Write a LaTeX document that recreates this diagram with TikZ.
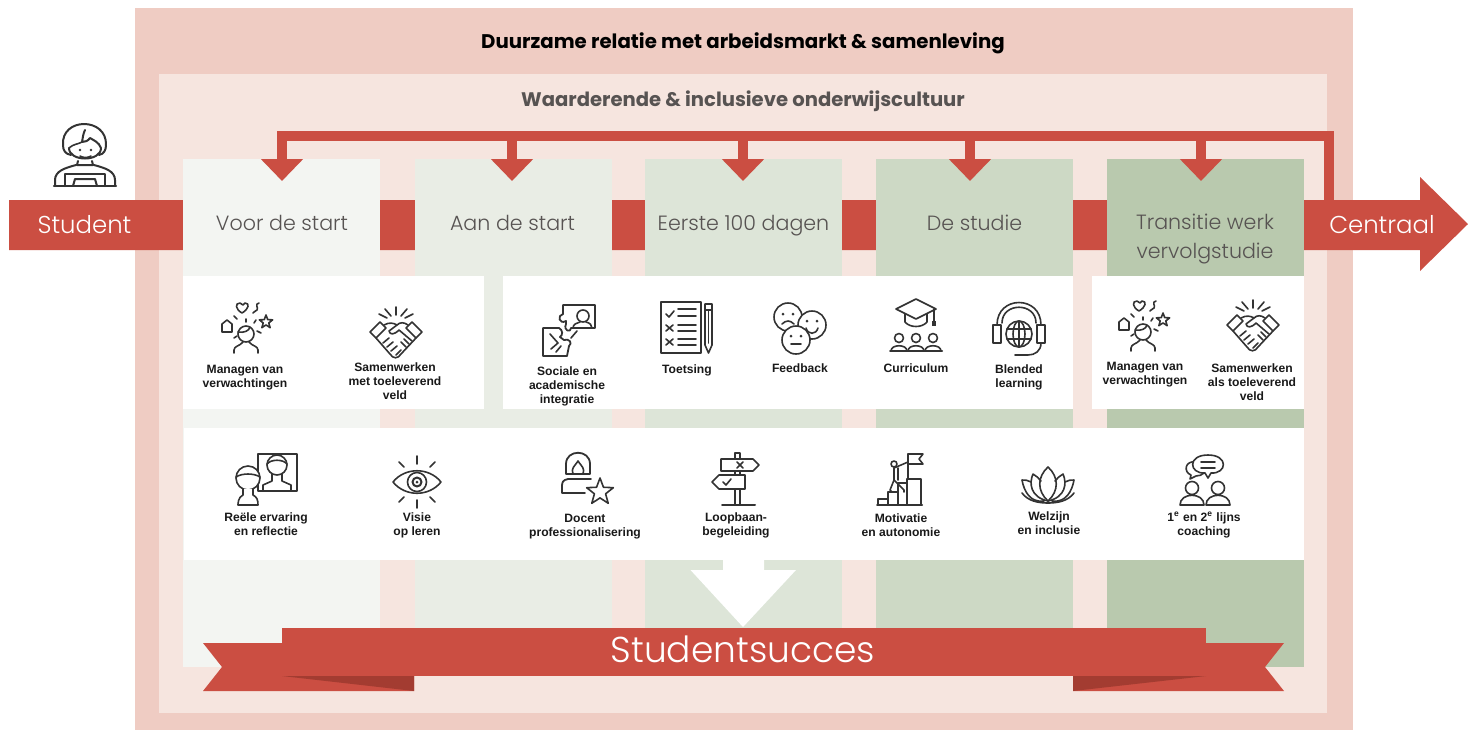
\documentclass[tikz,border=0pt]{standalone}
\usepackage{fontspec}
\setmainfont{Poppins}
\newfontfamily\lightfont{Poppins Light}
\newfontfamily\labelfont{Liberation Sans}
\usetikzlibrary{arrows.meta}
\definecolor{rood}{HTML}{CB4E42}
\definecolor{roodDonker}{HTML}{A33C31}
\definecolor{roze}{HTML}{EFCCC3}
\definecolor{rozeLicht}{HTML}{F6E5DF}
\definecolor{kolomA}{HTML}{F3F5F2}
\definecolor{kolomB}{HTML}{E9EDE5}
\definecolor{kolomC}{HTML}{DDE5D8}
\definecolor{kolomD}{HTML}{CDD9C5}
\definecolor{kolomE}{HTML}{B9C9AE}
\definecolor{tekst}{HTML}{575352}
\newcommand{\iconstar}[3]{\draw[icon, fill=white, shift={(#1,#2)}] (-90:#3) -- (-54:{#3*.42}) -- (-18:#3) -- (18:{#3*.42}) -- (54:#3) -- (90:{#3*.42}) -- (126:#3) -- (162:{#3*.42}) -- (198:#3) -- (234:{#3*.42}) --cycle;}
\tikzset{
	icon/.style={draw=black!80, line width=0.8pt, line cap=round, line join=round},
	lbl/.style={font=\labelfont\bfseries\fontsize{6.05}{7}\selectfont, align=center, text=black!90, inner sep=0pt},
	kolomtitel/.style={font=\lightfont\fontsize{10.3}{14.5}\selectfont, align=center, text=tekst, inner sep=0pt},
	pijltekst/.style={font=\lightfont\fontsize{12.2}{14}\selectfont, text=white, inner sep=0pt},
	terugkoppeling/.style={draw=rood, line width=5pt, -{Triangle[width=20.5pt, length=11pt]}},
	managen/.pic={
		\draw[icon] (-1,6) circle (8);
		\draw[icon] (-9,4) .. controls (-3,5) and (2,3) .. (3,-1);
		\draw[icon] (-13,25) -- (-13,22) .. controls (-13,18) and (-7,18) .. (-4,14);
		\draw[icon] (11,25) -- (11,22) .. controls (11,18) and (5,18) .. (2,14);
		\draw[icon] (-7,-25) .. controls (-12,-25) and (-12,-19) .. (-5,-15) .. controls (2,-19) and (3,-25) .. (-2,-25) -- (-4,-23) --cycle;
		\draw[icon] (12,-25) .. controls (7,-24) and (12,-20) .. (10,-18) .. controls (8,-16) and (6,-16) .. (6,-15);
		\draw[icon] (-25,-4) -- (-20,-8) -- (-15,-4) -- (-15,4) -- (-25,4) --cycle;
		\iconstar{19}{-6}{7}
		\draw[icon] (-13,-12) -- (-10,-9);
		\draw[icon] (-1,-9) -- (-1,-6);
		\draw[icon] (9,-8) -- (7,-5);
		\draw[icon] (10,3) -- (14,5);
		\draw[icon] (-13,10) -- (-10,8);
	},
	handshake/.pic={
		\draw[icon] (-26,-1) -- (-16,-11) -- (-10,-5) -- (-20,5) --cycle;
		\draw[icon] (26,-1) -- (16,-11) -- (10,-5) -- (20,5) --cycle;
		\draw[icon] (-12,-8) .. controls (-7,-11) and (-2,-10) .. (1,-8);
		\draw[icon] (12,-8) .. controls (8,-11) and (4,-11) .. (1,-8) -- (-7,-2) .. controls (-6,2) and (-2,2) .. (3,-3) -- (16,8);
		\draw[icon] (-20,5) -- (-6,21) .. controls (-3,26) and (2,26) .. (5,21) -- (20,5);
		\draw[icon] (-13,10) -- (-7,5);
		\draw[icon] (-9,14) -- (-3,9);
		\draw[icon] (-5,18) -- (1,13);
		\draw[icon] (0,22) -- (5,17);
		\draw[icon] (10,14) -- (5,9);
		\draw[icon] (13,11) -- (8,6);
		\draw[icon] (0,-26) -- (0,-18);
		\draw[icon] (-11,-24) -- (-5,-17);
		\draw[icon] (11,-24) -- (5,-17);
		\draw[icon] (-17,-19) -- (-9,-15);
		\draw[icon] (17,-19) -- (9,-15);
	},
	puzzle/.pic={
		\draw[icon, line width=0.9pt] (-6,-26) -- (26,-26) -- (26,-3) -- (2,-3) .. controls (2,2) and (-6,0) .. (-3,-7) -- (-3,-10) .. controls (-10,-6) and (-12,-16) .. (-6,-17) --cycle;
		\draw[icon] (14,-15) circle (6);
		\draw[icon] (4,-3) .. controls (4,-7) and (8,-8) .. (11,-9);
		\draw[icon] (17,-9) .. controls (21,-8) and (23,-6) .. (23,-3);
		\draw[icon, line width=0.9pt] (-26,-3) -- (-10,-3) .. controls (-6,-1) and (-6,4) .. (-9,6) -- (-5,9) .. controls (0,7) and (4,12) .. (0,15) -- (-2,25) -- (-26,25) --cycle;
		\draw[icon] (-19,3) -- (-11,12) -- (-18,18);
		\draw[icon] (-8,15) -- (-13,21);
		\draw[icon] (2,7) -- (8,0);
	},
	toetslijst/.pic={
		\draw[icon, line width=1pt] (-26,-26) rectangle (14,25);
		\draw[icon] (-21,-14) -- (-18,-11) -- (-13,-17);
		\foreach \y in {0,14} {
			\draw[icon] (-21,\y-3) -- (-14,\y+3);
			\draw[icon] (-21,\y+3) -- (-14,\y-3);
		}
		\foreach \y in {-19,-12,-3,3,11,17} \draw[icon] (-9,\y) -- (9,\y);
		\draw[icon] (18,-24) -- (25,-24) -- (25,17) -- (21.5,25) -- (18,17) --cycle;
		\draw[icon] (18,-18) -- (25,-18);
		\draw[icon] (21.5,-18) -- (21.5,15);
	},
	gezichten/.pic={
		\draw[icon, fill=white] (-12,-11) circle (14);
		\fill[black!80] (-17,-14) circle (1.5) (-7,-14) circle (1.5);
		\draw[icon] (-18,-4) .. controls (-14,-8) and (-10,-8) .. (-6,-4);
		\draw[icon, fill=white] (12,-3) circle (14);
		\fill[black!80] (7,-7) circle (1.5) (17,-7) circle (1.5);
		\draw[icon] (6,0) .. controls (8,7) and (16,7) .. (18,0);
		\draw[icon, fill=white] (-4,12) circle (14);
		\fill[black!80] (-9,8) circle (1.5) (1,8) circle (1.5);
		\draw[icon] (-9,16) -- (1,16);
	},
	curriculum/.pic={
		\draw[icon] (0,-26) -- (20,-16) -- (0,-6) -- (-20,-16) --cycle;
		\draw[icon] (-11,-11) -- (-11,-3) .. controls (-6,3) and (6,3) .. (11,-3) -- (11,-11);
		\draw[icon] (18,-16) -- (18,-4);
		\fill[black!80] (16,-4) rectangle (20,1);
		\foreach \x in {-17,0,17} {
			\draw[icon] (\x,13) circle (4.5);
			\draw[icon] (\x-8,26) .. controls (\x-8,19) and (\x+8,19) .. (\x+8,26);
		}
		\draw[icon, line width=1pt] (-26,26) -- (26,26);
	},
	headset/.pic={
		\draw[icon] (-22,-4) .. controls (-22,-34) and (22,-34) .. (22,-4);
		\draw[icon] (-17,-6) .. controls (-17,-27) and (17,-27) .. (17,-6);
		\draw[icon] (-26,-4) rectangle (-18,14);
		\draw[icon] (18,-4) rectangle (26,14);
		\draw[icon] (0,5) circle (13);
		\draw[icon] (0,5) ellipse (6 and 13);
		\draw[icon] (0,-8) -- (0,18);
		\draw[icon] (-12,0) -- (12,0);
		\draw[icon] (-12,10) -- (12,10);
		\draw[icon] (22,14) .. controls (22,22) and (16,26) .. (9,26) -- (-4,26);
	},
	reflectie/.pic={
		\draw[icon, line width=0.9pt] (-8,-26) rectangle (31,11);
		\draw[icon] (11,-15) ellipse (10 and 10);
		\draw[icon] (1,-16) .. controls (5,-21) and (17,-21) .. (21,-16);
		\draw[icon] (6,-6) -- (6,1) -- (-3,5) -- (-3,11);
		\draw[icon] (16,-6) -- (16,1) -- (25,5) -- (25,11);
		\draw[icon, fill=white] (-18,-2) ellipse (12 and 12);
		\draw[icon] (-30,-3) .. controls (-24,-7) and (-12,-7) .. (-6,-3);
		\draw[icon, fill=white] (-23,9) -- (-23,15) .. controls (-28,17) and (-28,24) .. (-28,25) -- (-8,25) .. controls (-8,20) and (-9,17) .. (-13,15) -- (-13,9);
	},
	oog/.pic={
		\draw[icon] (-24,0) .. controls (-12,-15) and (12,-15) .. (24,0) .. controls (12,15) and (-12,15) .. (-24,0) --cycle;
		\draw[icon] (0,0) circle (9.5);
		\draw[icon, line width=1pt] (0,0) circle (4.5);
		\fill[black!80] (0,0) circle (1.5);
		\draw[icon] (0,-26) -- (0,-18);
		\draw[icon] (0,18) -- (0,26);
		\draw[icon] (-18,-20) -- (-13,-15);
		\draw[icon] (18,-20) -- (13,-15);
		\draw[icon] (-18,20) -- (-13,15);
		\draw[icon] (18,20) -- (13,15);
	},
	docent/.pic={
		\draw[icon, line width=0.9pt] (-21,-5) -- (-21,-15) .. controls (-21,-30) and (3,-30) .. (3,-15) -- (3,-5) --cycle;
		\draw[icon] (-14,-5) .. controls (-16,-11) and (-13,-12) .. (-9,-18) .. controls (-5,-12) and (-2,-11) .. (-4,-5);
		\draw[icon, line width=0.9pt] (4,0) -- (-19,0) .. controls (-24,1) and (-25,3) .. (-25,7) -- (-25,14) -- (-2,14);
		\iconstar{13}{13}{14}
	},
	wegwijzer/.pic={
		\draw[icon] (-2,-26) -- (3,-26) -- (3,-20);
		\draw[icon] (-2,-26) -- (-2,-20);
		\draw[icon] (-2,-8) -- (-2,-4);
		\draw[icon] (3,-8) -- (3,-4);
		\draw[icon] (-2,10) -- (-2,26);
		\draw[icon] (3,10) -- (3,26);
		\draw[icon] (-16,-20) -- (16,-20) -- (22,-14) -- (16,-8) -- (-16,-8) --cycle;
		\draw[icon] (0,-17) -- (6,-11);
		\draw[icon] (6,-17) -- (0,-11);
		\draw[icon] (8,-4) -- (-18,-4) -- (-25,3) -- (-18,10) -- (8,10) --cycle;
		\draw[icon] (-14,3) -- (-11,6) -- (-6,0);
		\draw[icon, line width=1pt] (-15,26) -- (18,26);
	},
	motivatie/.pic={
		\draw[icon] (-23,25) -- (-23,19) -- (-13,19) -- (-13,25);
		\draw[icon] (-13,19) -- (-13,12) -- (-3,12) -- (-3,25);
		\draw[icon] (-3,12) -- (-3,3) -- (6,3);
		\draw[icon] (6,25) -- (6,-1) -- (20,-1) -- (20,25);
		\draw[icon, line width=1pt] (-24,25) -- (21,25);
		\draw[icon] (7,-1) -- (7,-26);
		\draw[icon] (7,-26) -- (22,-26) -- (18,-21) -- (22,-16) -- (7,-16);
		\draw[icon] (-7,-16) circle (3);
		\draw[icon] (-7,-12) -- (7,-18);
		\draw[icon] (-7,-12) -- (-7,0) -- (3,10) -- (3,12);
		\draw[icon] (-7,0) -- (-11,10) -- (-9,12);
		\draw[icon] (-3,-12) -- (-3,0);
	},
	lotus/.pic={
		\draw[icon] (0,16) .. controls (-11,6) and (-11,-8) .. (0,-18) .. controls (11,-8) and (11,6) .. (0,16);
		\draw[icon] (0,16) .. controls (-18,12) and (-19,-2) .. (-15,-11) .. controls (-12,-9) and (-9,-7) .. (-7,-4);
		\draw[icon] (0,16) .. controls (18,12) and (19,-2) .. (15,-11) .. controls (12,-9) and (9,-7) .. (7,-4);
		\draw[icon] (-4,16) .. controls (-18,18) and (-24,6) .. (-26,-5) .. controls (-23,-5) and (-20,-5) .. (-17,-3);
		\draw[icon] (4,16) .. controls (18,18) and (24,6) .. (26,-5) .. controls (23,-5) and (20,-5) .. (17,-3);
		\draw[icon] (-26,8) .. controls (-20,16) and (-10,18) .. (0,18) .. controls (10,18) and (20,16) .. (26,8);
	},
	coaching/.pic={
		\draw[icon] (-13,8) circle (6.5);
		\draw[icon] (-25,25) .. controls (-25,12) and (-1,12) .. (-1,25) --cycle;
		\draw[icon] (13,8) circle (6.5);
		\draw[icon] (1,25) .. controls (1,12) and (25,12) .. (25,25) --cycle;
		\draw[icon] (-9,-18) .. controls (-20,-20) and (-22,-8) .. (-14,-5) -- (-15,-1) -- (-9,-4) .. controls (-6,-4) and (-3,-5) .. (-1,-7);
		\draw[icon, fill=white] (3,-25) .. controls (-18,-25) and (-16,-6) .. (0,-7) -- (3,-2) -- (6,-7) .. controls (22,-6) and (24,-25) .. (3,-25) --cycle;
		\draw[icon] (-4,-18) -- (10,-18);
		\draw[icon] (-4,-12) -- (10,-12);
	},
	studenticon/.pic={
		\draw[icon, line width=1pt] (-14,0) .. controls (-20,-1) and (-22,-5) .. (-22,-10) .. controls (-24,-38) and (22,-38) .. (21,-10) .. controls (21,-5) and (19,-1) .. (14,0);
		\draw[icon, line width=1pt] (-16,-7) .. controls (-16,7) and (16,7) .. (16,-7) .. controls (14,-13) and (8,-15) .. (5,-17) .. controls (3,-14) and (0,-13) .. (-3,-13) .. controls (-2,-18) and (-2,-21) .. (0,-25);
		\draw[icon] (-3,-13) .. controls (-6,-11) and (-12,-11) .. (-16,-7);
		\fill[black!80] (-5,-5) circle (1.4) (6,-5) circle (1.4);
		\draw[icon] (-5,1) .. controls (-2,3) and (3,3) .. (6,1);
		\draw[icon, line width=1pt] (-7,6) -- (-8,10) -- (8,10) -- (7,6);
		\draw[icon, line width=1pt] (-30,31) -- (-30,25) .. controls (-30,16) and (-20,13) .. (-9,10);
		\draw[icon, line width=1pt] (30,31) -- (30,25) .. controls (30,16) and (20,13) .. (9,10);
		\draw[icon, line width=1pt] (-20,31) -- (-20,19) -- (20,19) -- (20,31);
		\draw[icon, line width=1pt] (-12,31) -- (-10,24) -- (10,24) -- (12,31);
		\draw[icon, line width=1.2pt] (-31,31) -- (31,31);
	}
}
\begin{document}
\begin{tikzpicture}[x=0.5pt, y=-0.5pt]
		\useasboundingbox (0,0) rectangle (1468,730);
		\fill[roze] (135,8) rectangle (1353,730);
		\fill[rozeLicht] (159,74) rectangle (1327,713);
		
		\fill[rood] (9,200) -- (1420,200) -- (1420,177) -- (1468,224) -- (1420,271) -- (1420,250) -- (9,250) --cycle;
		
		\fill[kolomA] (183,159) rectangle (380,667);
		\fill[kolomB] (415,159) rectangle (612,667);
		\fill[kolomC] (645,159) rectangle (842,667);
		\fill[kolomD] (876,159) rectangle (1073,667);
		\fill[kolomE] (1107,159) rectangle (1304,667);
		
		\fill[white] (183,276) rectangle (484,409);
		\fill[white] (503,276) rectangle (1073,409);
		\fill[white] (1092,276) rectangle (1304,409);
		\fill[white] (184,428) rectangle (1304,560);
		
		\node[font=\bfseries\fontsize{9.87}{11}\selectfont, inner sep=0pt] (relatie) at (743,43.5) {Duurzame relatie met arbeidsmarkt \& samenleving};
		\node[font=\bfseries\fontsize{9.8}{11}\selectfont, text=tekst, inner sep=0pt] (cultuur) at (743,101) {Waarderende \& inclusieve onderwijscultuur};
		
		\node[pijltekst] (student) at (84.5,225) {Student};
		\node[pijltekst] (centraal) at (1382,225) {Centraal};
		\node[kolomtitel, anchor=base] (voor) at (282,230) {Voor de start};
		\node[kolomtitel, anchor=base] (aan) at (512.5,230) {Aan de start};
		\node[kolomtitel, anchor=base] (eerste) at (743.5,230) {Eerste 100 dagen};
		\node[kolomtitel, anchor=base] (studie) at (974.5,230) {De studie};
		\node[kolomtitel] (transitie) at (1205,239) {Transitie werk\\vervolgstudie};
		
		\coordinate (uit) at (1329,200);
		\coordinate (puntvoor) at (282,181);
		\draw[terugkoppeling] (uit) |- (282,136) -- (puntvoor);
		\foreach \naam/\x in {aan/512, eerste/743, studie/970, transitie/1201} {
			\coordinate (boven\naam) at (\x,136);
			\coordinate (punt\naam) at (\x,181);
			\draw[terugkoppeling] (boven\naam) -- (punt\naam);
		}
		
		\pic at (85,155) {studenticon};
		\pic at (247,328) {managen};
		\pic at (396,333) {handshake};
		\pic at (569,331) {puzzle};
		\pic at (687,328) {toetslijst};
		\pic at (800,328) {gezichten};
		\pic at (916,325) {curriculum};
		\pic at (1019,329) {headset};
		\pic at (1144,326) {managen};
		\pic at (1253,326) {handshake};
		\pic at (266,480) {reflectie};
		\pic at (417,482) {oog};
		\pic at (587,479) {docent};
		\pic at (737,479) {wegwijzer};
		\pic at (901,480) {motivatie};
		\pic at (1048,485) {lotus};
		\pic at (1205,480) {coaching};
		
		\node[lbl] (managenA) at (245,377.5) {Managen van\\verwachtingen};
		\node[lbl] (samenA) at (395,381.5) {Samenwerken\\met toeleverend\\veld};
		\node[lbl] (sociaal) at (567,386) {Sociale en\\academische\\integratie};
		\node[lbl] (toetsing) at (687,370) {Toetsing};
		\node[lbl] (feedback) at (800,368) {Feedback};
		\node[lbl] (curr) at (916,368) {Curriculum};
		\node[lbl] (blended) at (1019,377) {Blended\\learning};
		\node[lbl] (managenB) at (1145,375) {Managen van\\verwachtingen};
		\node[lbl] (samenB) at (1252,382) {Samenwerken\\als toeleverend\\veld};
		\node[lbl] (ervaring) at (266,524) {Reële ervaring\\en reflectie};
		\node[lbl] (visie) at (417,525) {Visie\\op leren};
		\node[lbl] (prof) at (585,527) {Docent\\professionalisering};
		\node[lbl] (loopbaan) at (736,525) {Loopbaan-\\begeleiding};
		\node[lbl] (autonomie) at (901,525) {Motivatie\\en autonomie};
		\node[lbl] (welzijn) at (1049,523) {Welzijn\\en inclusie};
		\node[lbl] (lijns) at (1204,525) {1\textsuperscript{e} en 2\textsuperscript{e} lijns\\coaching};
		
		\fill[white] (723,560) -- (764,560) -- (764,570) -- (796,570) -- (743,627) -- (690.5,570) -- (723,570) --cycle;
		
		\fill[rood] (203,643) -- (414,643) -- (414,691) -- (203,691) -- (222,667) --cycle;
		\fill[rood] (1284,643) -- (1073,643) -- (1073,691) -- (1284,691) -- (1265,667) --cycle;
		\fill[roodDonker] (282,676) -- (414,691) -- (414,676) --cycle;
		\fill[roodDonker] (1206,676) -- (1073,691) -- (1073,676) --cycle;
		\fill[rood] (282,628) rectangle (1206,676);
		\node[font=\lightfont\fontsize{18}{20}\selectfont, text=white, inner sep=0pt] (succes) at (743,649) {Studentsucces};
\end{tikzpicture}
\end{document}
